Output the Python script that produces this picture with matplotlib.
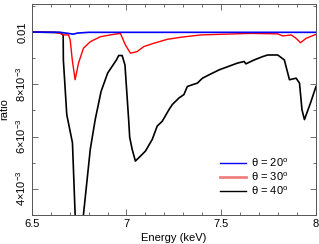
import numpy as np
import matplotlib
matplotlib.use("Agg")
import matplotlib.pyplot as plt
from matplotlib.lines import Line2D
from matplotlib.ticker import MultipleLocator, FixedLocator

plt.rcParams['font.family'] = ['Liberation Sans', 'DejaVu Sans']
plt.rcParams['mathtext.fontset'] = 'custom'
plt.rcParams['mathtext.rm'] = 'Liberation Sans'
plt.rcParams['mathtext.it'] = 'Liberation Sans:italic'

# theta = 20 deg (blue)
e20 = [6.5, 6.65, 6.70, 6.72, 6.74, 6.80, 7.0, 7.5, 8.0]
r20 = [0.01001, 0.01000, 0.00995, 0.00993, 0.00997, 0.01000, 0.01000, 0.01000, 0.01000]

# theta = 30 deg (red)
e30 = [6.5, 6.623, 6.650, 6.667, 6.694, 6.703, 6.714, 6.729, 6.747, 6.773, 6.809,
       6.862, 6.915, 6.968, 6.994, 7.021, 7.056, 7.091, 7.144, 7.215, 7.286,
       7.392, 7.657, 7.798, 7.825, 7.869, 7.895, 7.918, 7.948, 7.992, 8.0]
r30 = [0.01001, 0.01000, 0.00996, 0.00990, 0.00990, 0.00971, 0.00894, 0.00818, 0.00882,
       0.00939, 0.00964, 0.00983, 0.00990, 0.00996, 0.00952, 0.00920, 0.00926,
       0.00945, 0.00958, 0.00973, 0.00981, 0.00990, 0.00996, 0.00994, 0.00986,
       0.00990, 0.00977, 0.00960, 0.00977, 0.00990, 0.00992]

# theta = 40 deg (black)
e40 = [6.5, 6.650, 6.666, 6.667, 6.685, 6.715, 6.729, 6.755, 6.773, 6.809, 6.835,
       6.866, 6.901, 6.947, 6.959, 6.977, 6.992, 7.012, 7.017, 7.030, 7.047,
       7.074, 7.100, 7.136, 7.162, 7.189, 7.224, 7.242, 7.277, 7.303, 7.321,
       7.348, 7.374, 7.401, 7.436, 7.489, 7.586, 7.621, 7.630, 7.674, 7.719,
       7.745, 7.798, 7.833, 7.860, 7.895, 7.913, 7.926, 7.939, 7.971, 8.0]
r40 = [0.01001, 0.00999, 0.00990, 0.00894, 0.00684, 0.00576, 0.00303, 0.00150, 0.00300,
       0.00551, 0.00665, 0.00773, 0.00844, 0.00894, 0.00911, 0.00911, 0.00875,
       0.00659, 0.00597, 0.00551, 0.00506, 0.00525, 0.00544, 0.00589, 0.00640,
       0.00659, 0.00703, 0.00723, 0.00748, 0.00761, 0.00792, 0.00799, 0.00805,
       0.00824, 0.00837, 0.00856, 0.00882, 0.00888, 0.00879, 0.00894, 0.00907,
       0.00913, 0.00913, 0.00894, 0.00818, 0.00824, 0.00805, 0.00703, 0.00665,
       0.00729, 0.00792]

labels = ['θ = 20$^{\\rm o}$', 'θ = 30$^{\\rm o}$', 'θ = 40$^{\\rm o}$']
yticks = [0.004, 0.006, 0.008, 0.01]
yticklabels = [r'$4{\times}10^{-3}$', r'$6{\times}10^{-3}$', r'$8{\times}10^{-3}$', '0.01']
xticks = [6.5, 7, 7.5, 8]
xticklabels = ['6.5', '7', '7.5', '8']

fig = plt.figure(figsize=(3.19, 2.44), dpi=100)
ax = fig.add_axes([0.0994, 0.119, 0.8912, 0.866])

ax.plot(e40, r40, color='black', lw=1.2)
ax.plot(e30, r30, color='#ff0000', lw=1.0)
ax.plot(e20, r20, color='#0000ff', lw=1.2)

ax.set_xlim(6.5, 8.0)
ax.set_ylim(0.00299, 0.0111)

ax.set_xticks(xticks)
ax.set_xticklabels(xticklabels)
ax.xaxis.set_minor_locator(MultipleLocator(0.1))
ax.set_yticks(yticks)
ax.set_yticklabels(yticklabels, rotation=90, va='center')
ax.yaxis.set_minor_locator(FixedLocator([0.003, 0.005, 0.007, 0.009, 0.011]))

ax.tick_params(which='both', direction='in', top=True, right=True, labelsize=8, width=0.6, color='#555555')
ax.tick_params(which='major', length=4.5, pad=3)
ax.tick_params(which='minor', length=2.2)
for s in ax.spines.values():
    s.set_linewidth(0.7)
    s.set_color('#555555')

ax.set_xlabel('Energy (keV)', fontsize=8, labelpad=3)
ax.set_ylabel('ratio', fontsize=8, labelpad=3)

handles = [Line2D([], [], color='#0000ff', lw=1.0),
           Line2D([], [], color='#f08080', lw=2.0),
           Line2D([], [], color='black', lw=1.0)]
ax.legend(handles, labels, loc='upper left', bbox_to_anchor=(0.662, 0.275),
          frameon=False, fontsize=8, handlelength=2.35, handletextpad=0.45,
          labelspacing=0.15, borderpad=0, borderaxespad=0)

fig.savefig('out.png', dpi=100)
